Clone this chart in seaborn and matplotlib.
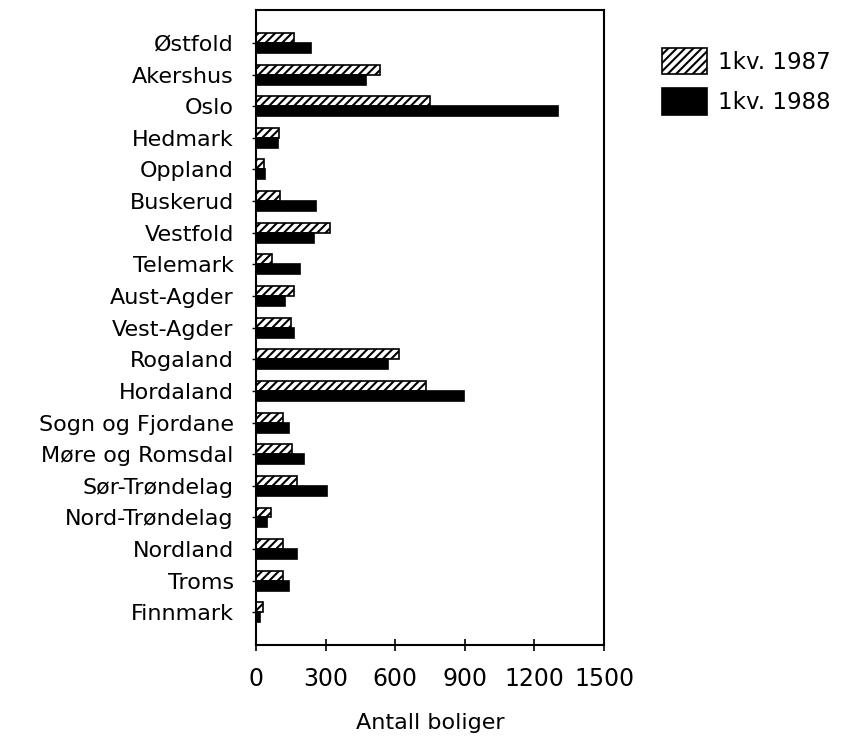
import matplotlib
matplotlib.use("Agg")
import matplotlib.pyplot as plt
import seaborn as sns
import pandas as pd
from matplotlib.patches import Patch

counties = ["Østfold", "Akershus", "Oslo", "Hedmark", "Oppland", "Buskerud",
            "Vestfold", "Telemark", "Aust-Agder", "Vest-Agder", "Rogaland",
            "Hordaland", "Sogn og Fjordane", "Møre og Romsdal", "Sør-Trøndelag",
            "Nord-Trøndelag", "Nordland", "Troms", "Finnmark"]
q1_1987 = [165, 534, 749, 100, 36, 102, 317, 70, 162, 149, 617, 731, 115, 155, 178, 66, 115, 115, 29]
q1_1988 = [235, 473, 1303, 96, 37, 259, 251, 188, 123, 165, 570, 897, 142, 208, 304, 46, 175, 143, 17]
series = ["1kv. 1987", "1kv. 1988"]
xticks = [0, 300, 600, 900, 1200, 1500]

df = pd.DataFrame({
    "fylke": counties * 2,
    "verdi": q1_1987 + q1_1988,
    "periode": [series[0]] * len(counties) + [series[1]] * len(counties),
})

sns.set_theme(style="white")
plt.rcParams["font.family"] = ["DejaVu Sans"]
plt.rcParams["hatch.linewidth"] = 1.5
for k in ["text.color", "axes.labelcolor", "xtick.color", "ytick.color", "axes.edgecolor"]:
    plt.rcParams[k] = "black"

fig = plt.figure(figsize=(8.47, 7.4), dpi=100)
ax = fig.add_axes([256 / 847, 1 - 645 / 740, (604 - 256) / 847, (645 - 10) / 740])

sns.barplot(data=df, y="fylke", x="verdi", hue="periode", order=counties,
            hue_order=series, palette=["white", "black"], edgecolor="black",
            linewidth=1.2, width=0.63, orient="h", ax=ax, legend=False)

for p in ax.containers[0]:
    p.set_hatch("////")

ax.set_xlim(0, 1500)
ax.set_ylim(18 + 1.03, -1.04)
ax.set_xticks(xticks)
ax.set_xticklabels([str(v) for v in xticks], fontsize=17)
ax.tick_params(axis="y", labelsize=16, length=6, direction="inout", width=1, pad=13, left=True)
ax.tick_params(axis="x", length=8, direction="inout", width=1.2, pad=12, bottom=True)
ax.set_xlabel("Antall boliger", fontsize=16, labelpad=16)
ax.set_ylabel("")
for s in ax.spines.values():
    s.set_color("black")
    s.set_linewidth(1.5)

handles = [Patch(facecolor="white", edgecolor="black", hatch="////", linewidth=1.2),
           Patch(facecolor="black", edgecolor="black", linewidth=1.2)]
fig.legend(handles=handles, labels=series, loc="upper left",
           bbox_to_anchor=(662 / 847, 1 - 48 / 740), bbox_transform=fig.transFigure,
           frameon=False, fontsize=16.5, handlelength=1.95, handleheight=1.4,
           labelspacing=0.6, handletextpad=0.5, borderpad=0, borderaxespad=0)

fig.savefig("out.png", dpi=100)
